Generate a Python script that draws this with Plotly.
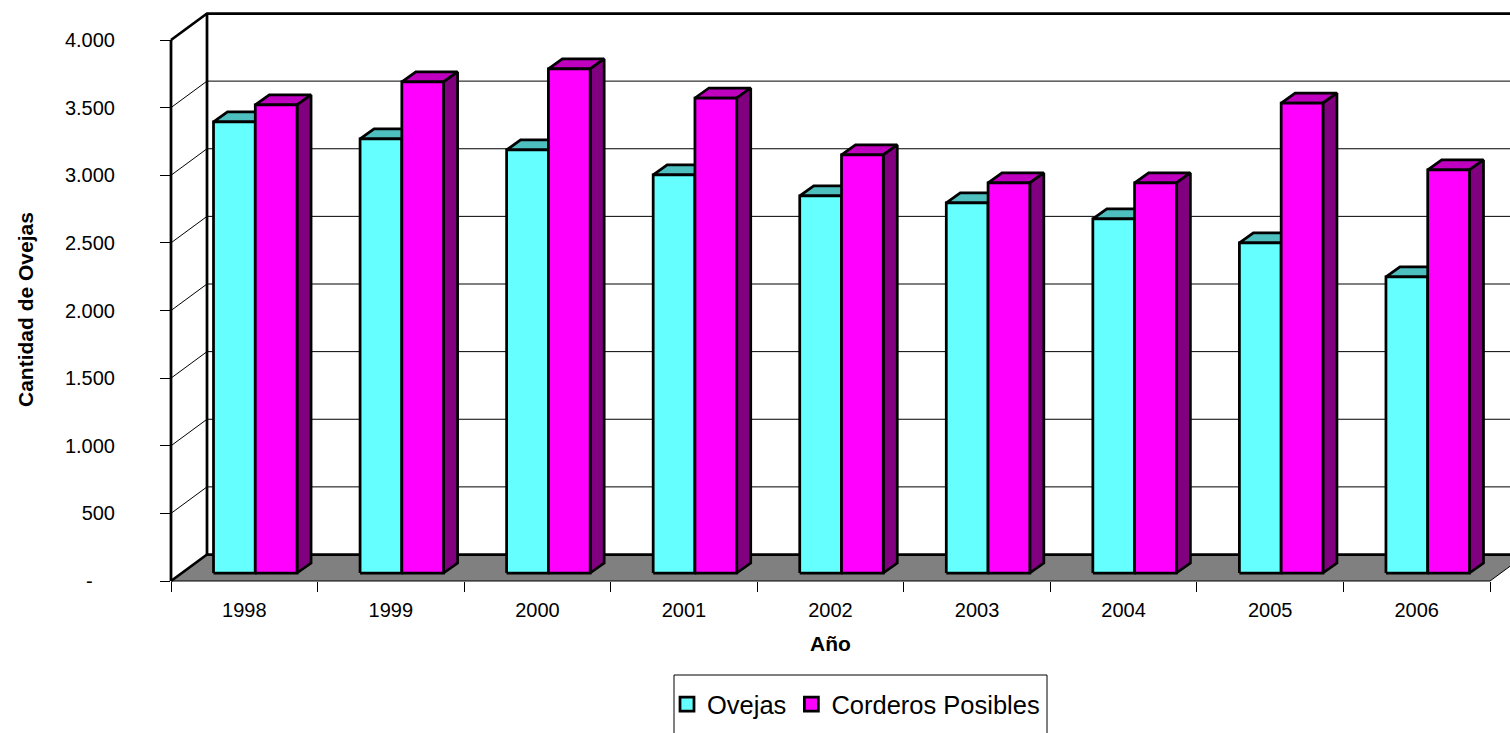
import plotly.graph_objects as go

years = ["1998", "1999", "2000", "2001", "2002", "2003", "2004", "2005", "2006"]
ovejas = [3335, 3209, 3128, 2943, 2788, 2736, 2618, 2440, 2189]
corderos = [3461, 3631, 3727, 3512, 3091, 2884, 2884, 3475, 2980]
y_ticks = [0, 500, 1000, 1500, 2000, 2500, 3000, 3500, 4000]
y_labels = ["-\u00a0\u00a0\u00a0\u00a0", "500", "1.000", "1.500", "2.000", "2.500", "3.000", "3.500", "4.000"]
series_names = ["Ovejas", "Corderos Posibles"]
x_title = "Año"
y_title = "Cantidad de Ovejas"

FONT = "Liberation Sans"
W, H = 1510, 733
LEFT, RIGHT, TOP, BOTTOM = 171, 1490, 40, 581  # front plane of the chart, in page pixels
n = len(years)
PX_X = (RIGHT - LEFT) / n
PX_Y = (BOTTOM - TOP) / 4000

# Oblique projection, offsets expressed in axis units
WALL_DX, WALL_DY = 36 / PX_X, 26.5 / PX_Y
PLANE_DX, PLANE_DY = 11 / PX_X, 8 / PX_Y
BAR_DX, BAR_DY = 14 / PX_X, 10 / PX_Y
BAR_W = 0.285
BAR_START = 0.215


def page_x(px):
    return px / W


def page_y(px):
    return 1 - px / H


def polys(items):
    xs, ys = [], []
    for poly in items:
        xs += [p[0] for p in poly] + [poly[0][0], None]
        ys += [p[1] for p in poly] + [poly[0][1], None]
    return xs, ys


def face(items, color, lw=2.75):
    xs, ys = polys(items)
    return go.Scatter(x=xs, y=ys, xaxis="x2", yaxis="y2", mode="lines", fill="toself",
                      fillcolor=color, line=dict(color="black", width=lw),
                      hoverinfo="skip", showlegend=False)


def line(xs, ys, lw=1, color="black"):
    return go.Scatter(x=xs, y=ys, xaxis="x2", yaxis="y2", mode="lines",
                      line=dict(color=color, width=lw), hoverinfo="skip", showlegend=False)


fig = go.Figure()

# Legend entries (these also keep the visible axes alive)
palette = [("#66FFFF", "#4DBFBF", "#338080"), ("#FF00FF", "#BF00BF", "#800080")]
for s, name in enumerate(series_names):
    fig.add_trace(go.Scatter(
        x=[None], y=[None], mode="markers", name=name,
        marker=dict(symbol="square", size=14, color=palette[s][0],
                    line=dict(color="black", width=2.75))))

# Floor
fig.add_trace(go.Scatter(
    x=[0, n, n + WALL_DX, WALL_DX, 0], y=[0, 0, WALL_DY, WALL_DY, 0],
    xaxis="x2", yaxis="y2", mode="lines", fill="toself", fillcolor="#808080",
    line=dict(width=0), hoverinfo="skip", showlegend=False))
fig.add_trace(line([0, n, n + WALL_DX], [0, 0, WALL_DY], 1))

# Gridlines on the back wall and left wall
for v in y_ticks[1:-1]:
    fig.add_trace(line([0, WALL_DX, n + WALL_DX], [v, v + WALL_DY, v + WALL_DY], 1))

# Wall frame
fig.add_trace(line([0, WALL_DX, n + WALL_DX], [4000, 4000 + WALL_DY, 4000 + WALL_DY], 2.75))
fig.add_trace(line([WALL_DX, WALL_DX], [WALL_DY, 4000 + WALL_DY], 2.75))
fig.add_trace(line([0, WALL_DX, n + WALL_DX], [0, WALL_DY, WALL_DY], 2.75))
fig.add_trace(line([0, 0], [0, 4000], 2.75))

# Bars
for s, values in enumerate([ovejas, corderos]):
    fronts, tops, sides = [], [], []
    for i, v in enumerate(values):
        x0 = i + BAR_START + s * BAR_W + PLANE_DX
        x1 = x0 + BAR_W
        y0 = PLANE_DY
        y1 = PLANE_DY + v
        fronts.append([(x0, y0), (x1, y0), (x1, y1), (x0, y1)])
        tops.append([(x0, y1), (x1, y1), (x1 + BAR_DX, y1 + BAR_DY), (x0 + BAR_DX, y1 + BAR_DY)])
        sides.append([(x1, y0), (x1 + BAR_DX, y0 + BAR_DY), (x1 + BAR_DX, y1 + BAR_DY), (x1, y1)])
    front, top, side = palette[s]
    fig.add_trace(face(tops, top))
    fig.add_trace(face(sides, side))
    fig.add_trace(face(fronts, front))

tick_font = dict(family=FONT, size=20, color="black")
title_font = dict(family=FONT, size=21, color="black")

fig.update_layout(
    width=W, height=H, autosize=False,
    margin=dict(l=0, r=0, t=0, b=0, pad=0, autoexpand=False),
    paper_bgcolor="white", plot_bgcolor="rgba(0,0,0,0)",
    font=dict(family=FONT, color="black", size=20),
    # Visible axes, laid over the front plane of the chart
    xaxis=dict(
        domain=[page_x(LEFT), page_x(RIGHT)], anchor="y",
        range=[0, n], tickmode="array",
        tickvals=[i + 0.5 for i in range(n)], ticktext=years,
        ticks="", ticklabelstandoff=15, showgrid=False, zeroline=False, showline=False,
        tickfont=tick_font,
        minor=dict(tickmode="array", tickvals=list(range(n + 1)), ticks="outside",
                   ticklen=10, tickwidth=1, tickcolor="black", showgrid=False),
    ),
    yaxis=dict(
        domain=[page_y(BOTTOM), page_y(TOP)], anchor="x",
        range=[0, 4000], tickmode="array", tickvals=y_ticks, ticktext=y_labels,
        ticks="outside", ticklen=10, tickwidth=1, tickcolor="black", ticklabelstandoff=41,
        showgrid=False, zeroline=False, showline=False,
        tickfont=tick_font,
    ),
    # Page-wide axes with the same scale, for the projected walls and bars
    xaxis2=dict(
        domain=[0, 1], anchor="y2", visible=False,
        range=[-LEFT / PX_X, (W - LEFT) / PX_X],
    ),
    yaxis2=dict(
        domain=[0, 1], anchor="x2", visible=False,
        range=[-(H - BOTTOM) / PX_Y, BOTTOM / PX_Y],
    ),
    legend=dict(
        orientation="h",
        x=page_x(667), xanchor="left",
        y=page_y(681), yanchor="top",
        font=dict(family=FONT, size=25.5, color="black"),
        bgcolor="rgba(0,0,0,0)", borderwidth=0,
        itemclick=False, itemdoubleclick=False,
    ),
    annotations=[
        dict(text="<b>" + x_title + "</b>", xref="paper", yref="paper",
             x=page_x(831), y=page_y(643), xanchor="center", yanchor="middle",
             showarrow=False, font=title_font),
        dict(text="<b>" + y_title + "</b>", xref="paper", yref="paper",
             x=page_x(25), y=page_y(310), xanchor="center", yanchor="middle",
             textangle=-90, showarrow=False, font=title_font),
    ],
    shapes=[dict(
        type="rect", xref="paper", yref="paper",
        x0=page_x(674), x1=page_x(1047), y0=page_y(745), y1=page_y(675),
        line=dict(color="black", width=1), fillcolor="rgba(0,0,0,0)", layer="below",
    )],
    hovermode=False,
)

fig.write_html("out.html", config={"displayModeBar": False},
               post_script="document.body.style.margin='0';document.body.style.overflow='hidden';")
